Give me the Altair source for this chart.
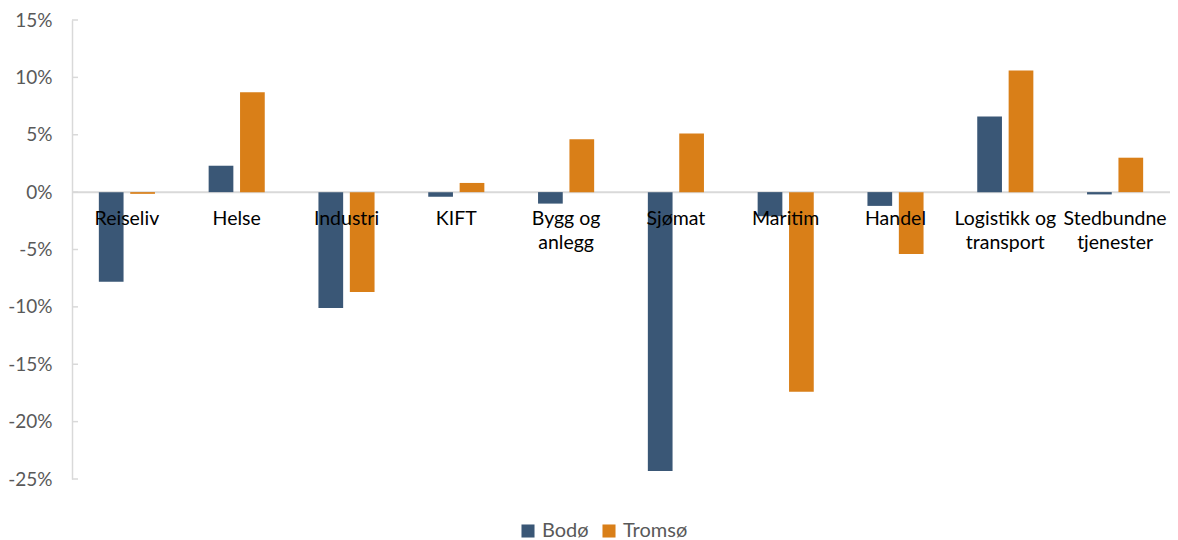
import altair as alt
import pandas as pd

categories = ["Reiseliv", "Helse", "Industri", "KIFT", "Bygg og\nanlegg", "Sjømat",
              "Maritim", "Handel", "Logistikk og\ntransport", "Stedbundne\ntjenester"]
series = ["Bodø", "Tromsø"]
bodo = [-7.8, 2.3, -10.1, -0.4, -1.0, -24.3, -2.1, -1.2, 6.6, -0.2]
tromso = [-0.15, 8.7, -8.7, 0.8, 4.6, 5.1, -17.4, -5.4, 10.6, 3.0]
y_ticks = [15, 10, 5, 0, -5, -10, -15, -20, -25]
colors = ["#3A5776", "#D97F18"]

rows = []
for c, b, t in zip(categories, bodo, tromso):
    rows.append({"kategori": c, "by": "Bodø", "verdi": b})
    rows.append({"kategori": c, "by": "Tromsø", "verdi": t})
df = pd.DataFrame(rows)

FONT = "Lato"
yscale = alt.Scale(domain=[-25, 15], nice=False, zero=False)

bars = alt.Chart(df).mark_bar().encode(
    x=alt.X("kategori:N", sort=categories, title=None,
            scale=alt.Scale(paddingInner=0, paddingOuter=0),
            axis=alt.Axis(orient="bottom", offset=-287, domain=False, ticks=False,
                          labelAngle=0, labelFont=FONT, labelFontSize=19.5,
                          labelColor="#000000", labelPadding=17,
                          labelExpr="split(datum.label, '\\n')",
                          labelLineHeight=24, labelOverlap=False, labelLimit=300,
                          labelBaseline="top", zindex=1)),
    xOffset=alt.XOffset("by:N", sort=series,
                        scale=alt.Scale(paddingInner=0.213, paddingOuter=0.855)),
    y=alt.Y("verdi:Q", scale=yscale, title=None,
            axis=alt.Axis(values=y_ticks, ticks=False, grid=False,
                          domainColor="#D9D9D9", domainWidth=1.5,
                          labelFont=FONT, labelFontSize=19, labelColor="#595959",
                          labelPadding=20, labelExpr="datum.value + '%'")),
    color=alt.Color("by:N", sort=series, title=None,
                    scale=alt.Scale(domain=series, range=colors),
                    legend=alt.Legend(orient="none", legendX=446, legendY=501,
                                      direction="horizontal", symbolType="square",
                                      symbolSize=170, symbolStrokeWidth=0,
                                      labelFont=FONT, labelFontSize=20,
                                      labelColor="#595959", columnPadding=10,
                                      labelOffset=4, padding=0)),
)

zero = alt.Chart(pd.DataFrame({"v": [0]})).mark_rule(
    color="#D9D9D9", strokeWidth=2).encode(y=alt.Y("v:Q", scale=yscale))

ticks = alt.Chart(pd.DataFrame({"t": y_ticks})).mark_rule(
    color="#D9D9D9", strokeWidth=1.5).encode(
    y=alt.Y("t:Q", scale=yscale), x=alt.value(0), x2=alt.value(6))

chart = alt.layer(zero, ticks, bars).properties(
    width=1098, height=459,
    autosize=alt.AutoSizeParams(type="none"),
    padding={"left": 72, "top": 20, "right": 8, "bottom": 61},
).configure(background="white").configure_view(strokeWidth=0, stroke="transparent")

chart.save("out.html", embed_options={"renderer": "svg", "actions": False})
